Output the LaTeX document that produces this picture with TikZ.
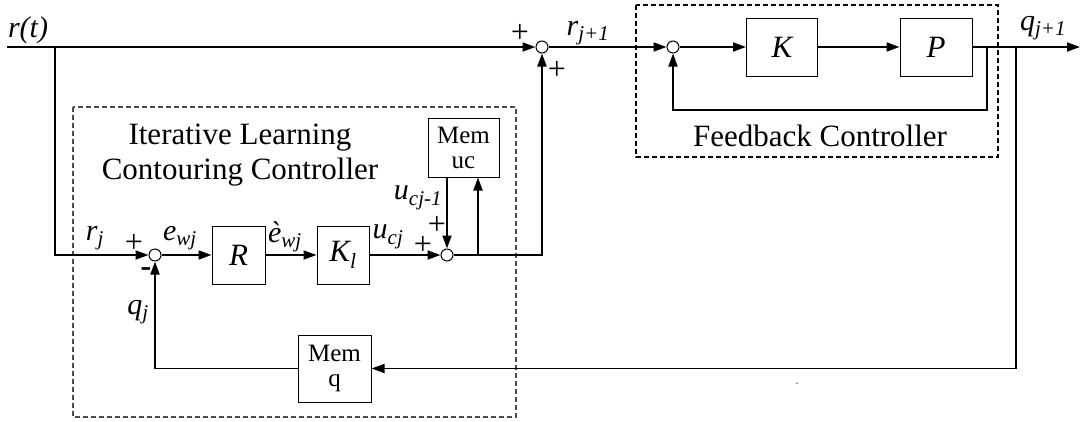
\documentclass[tikz,border=0pt]{standalone}
\usepackage{fontspec}
\setmainfont{Liberation Serif}
\usetikzlibrary{arrows.meta,positioning}
\newcommand{\sig}[2]{\textit{#1}\textsubscript{\textit{#2}}}

\begin{document}
\begin{tikzpicture}[x=1pt, y=-1pt,
  blk/.style={draw, line width=1pt, minimum width=#1, minimum height=58pt,
              inner sep=0pt, font=\fontsize{31}{34}\selectfont\itshape},
  blk/.default=53pt,
  mem/.style={draw, line width=1pt, align=center, inner sep=0pt,
              font=\fontsize{25}{25}\selectfont},
  sum/.style={circle, draw, line width=1pt, minimum size=12pt, inner sep=0pt},
  sig/.style={font=\fontsize{30}{34}\selectfont},
  pm/.style={inner sep=0pt, font=\fontsize{32}{34}\selectfont},
  title/.style={align=center, font=\fontsize{31}{35}\selectfont},
  grp/.style={dash pattern=on 5pt off 3pt, line width=1.2pt},
  arr/.style={line width=1.8pt, -{Triangle[length=13pt,width=9pt]}}
]
  \useasboundingbox (0,0) rectangle (1084,421);
  \draw[grp, gray!60!black] (73,107) rectangle (516,417);
  \draw[grp] (636,5) rectangle (998,157);

  \node[sum] (s1) at (542,47) {};
  \node[sum] (s2) at (673,47) {};
  \node[sum] (se) at (155,255) {};
  \node[sum] (su) at (447,255) {};
  \node[blk=71pt] (k) at (782,47) {K};
  \node[blk=72pt] (p) at (936,47) {P};
  \node[blk] (r) at (238.5,255) {R};
  \node[blk=52pt] (kl) at (343,255) {K\textsubscript{l}};
  \node[mem, minimum width=71pt, minimum height=59pt] (mu) at (463.5,147.5) {Mem\\uc};
  \node[mem, minimum width=73pt, minimum height=67pt] (mq) at (334.5,368.5) {Mem\\q};

  \coordinate (in) at (7,47);
  \coordinate (br) at (55,47);
  \coordinate (out) at (1080,47);
  \coordinate (fb) at (987,47);
  \coordinate (tap) at (1016,47);
  \coordinate (up) at (478,255);
  \coordinate (ju) at (542,255);

  \draw[arr] (in) -- (s1);
  \draw[arr] (br) |- (se);
  \draw[arr] (se) -- (r);
  \draw[arr] (r) -- (kl);
  \draw[arr] (kl) -- (su);
  \draw[arr] (su) -- (ju) -- (s1);
  \draw[arr] (up) -- (up |- mu.south);
  \draw[arr] (su |- mu.south) -- (su);
  \draw[arr] (s1) -- (s2);
  \draw[arr] (s2) -- (k);
  \draw[arr] (k) -- (p);
  \draw[arr] (p) -- (out);
  \draw[arr] (fb) -- ++(0,63) -| (s2);
  \draw[arr] (tap) |- (mq);
  \draw[arr] (mq) -| (se);

  \node[sig] (rt) at (28,30) {\textit{r(t)}};
  \node[pm] (p1) at (520,33) {+};
  \node[pm] (p2) at (557,70) {+};
  \node[sig] (rj1) at (588,33) {\sig{r}{j+1}};
  \node[sig] (qj1) at (1043,28) {\sig{q}{j+1}};
  \node[sig] (rj) at (95,238) {\sig{r}{j}};
  \node[pm] (p3) at (134,243) {+};
  \node[pm] (m1) at (146,272) {\textbf{-}};
  \node[sig] (ewj) at (180,238) {\sig{e}{wj}};
  \node[sig] (edwj) at (285,237) {\sig{è}{wj}};
  \node[sig] (ucj) at (388,237) {\sig{u}{cj}};
  \node[pm] (p4) at (423,245) {+};
  \node[pm] (p5) at (437,225) {+};
  \node[sig] (ucj1) at (418,198) {\sig{u}{cj-1}};
  \node[sig] (qj) at (138,312) {\sig{q}{j}};
  \node[title] (ilc) at (240,155) {Iterative Learning\\Contouring Controller};
  \node[title] (fc) at (820,136) {Feedback Controller};
  \node[font=\fontsize{12}{12}\selectfont, gray] (dot) at (797,385) {-};
\end{tikzpicture}
\end{document}
